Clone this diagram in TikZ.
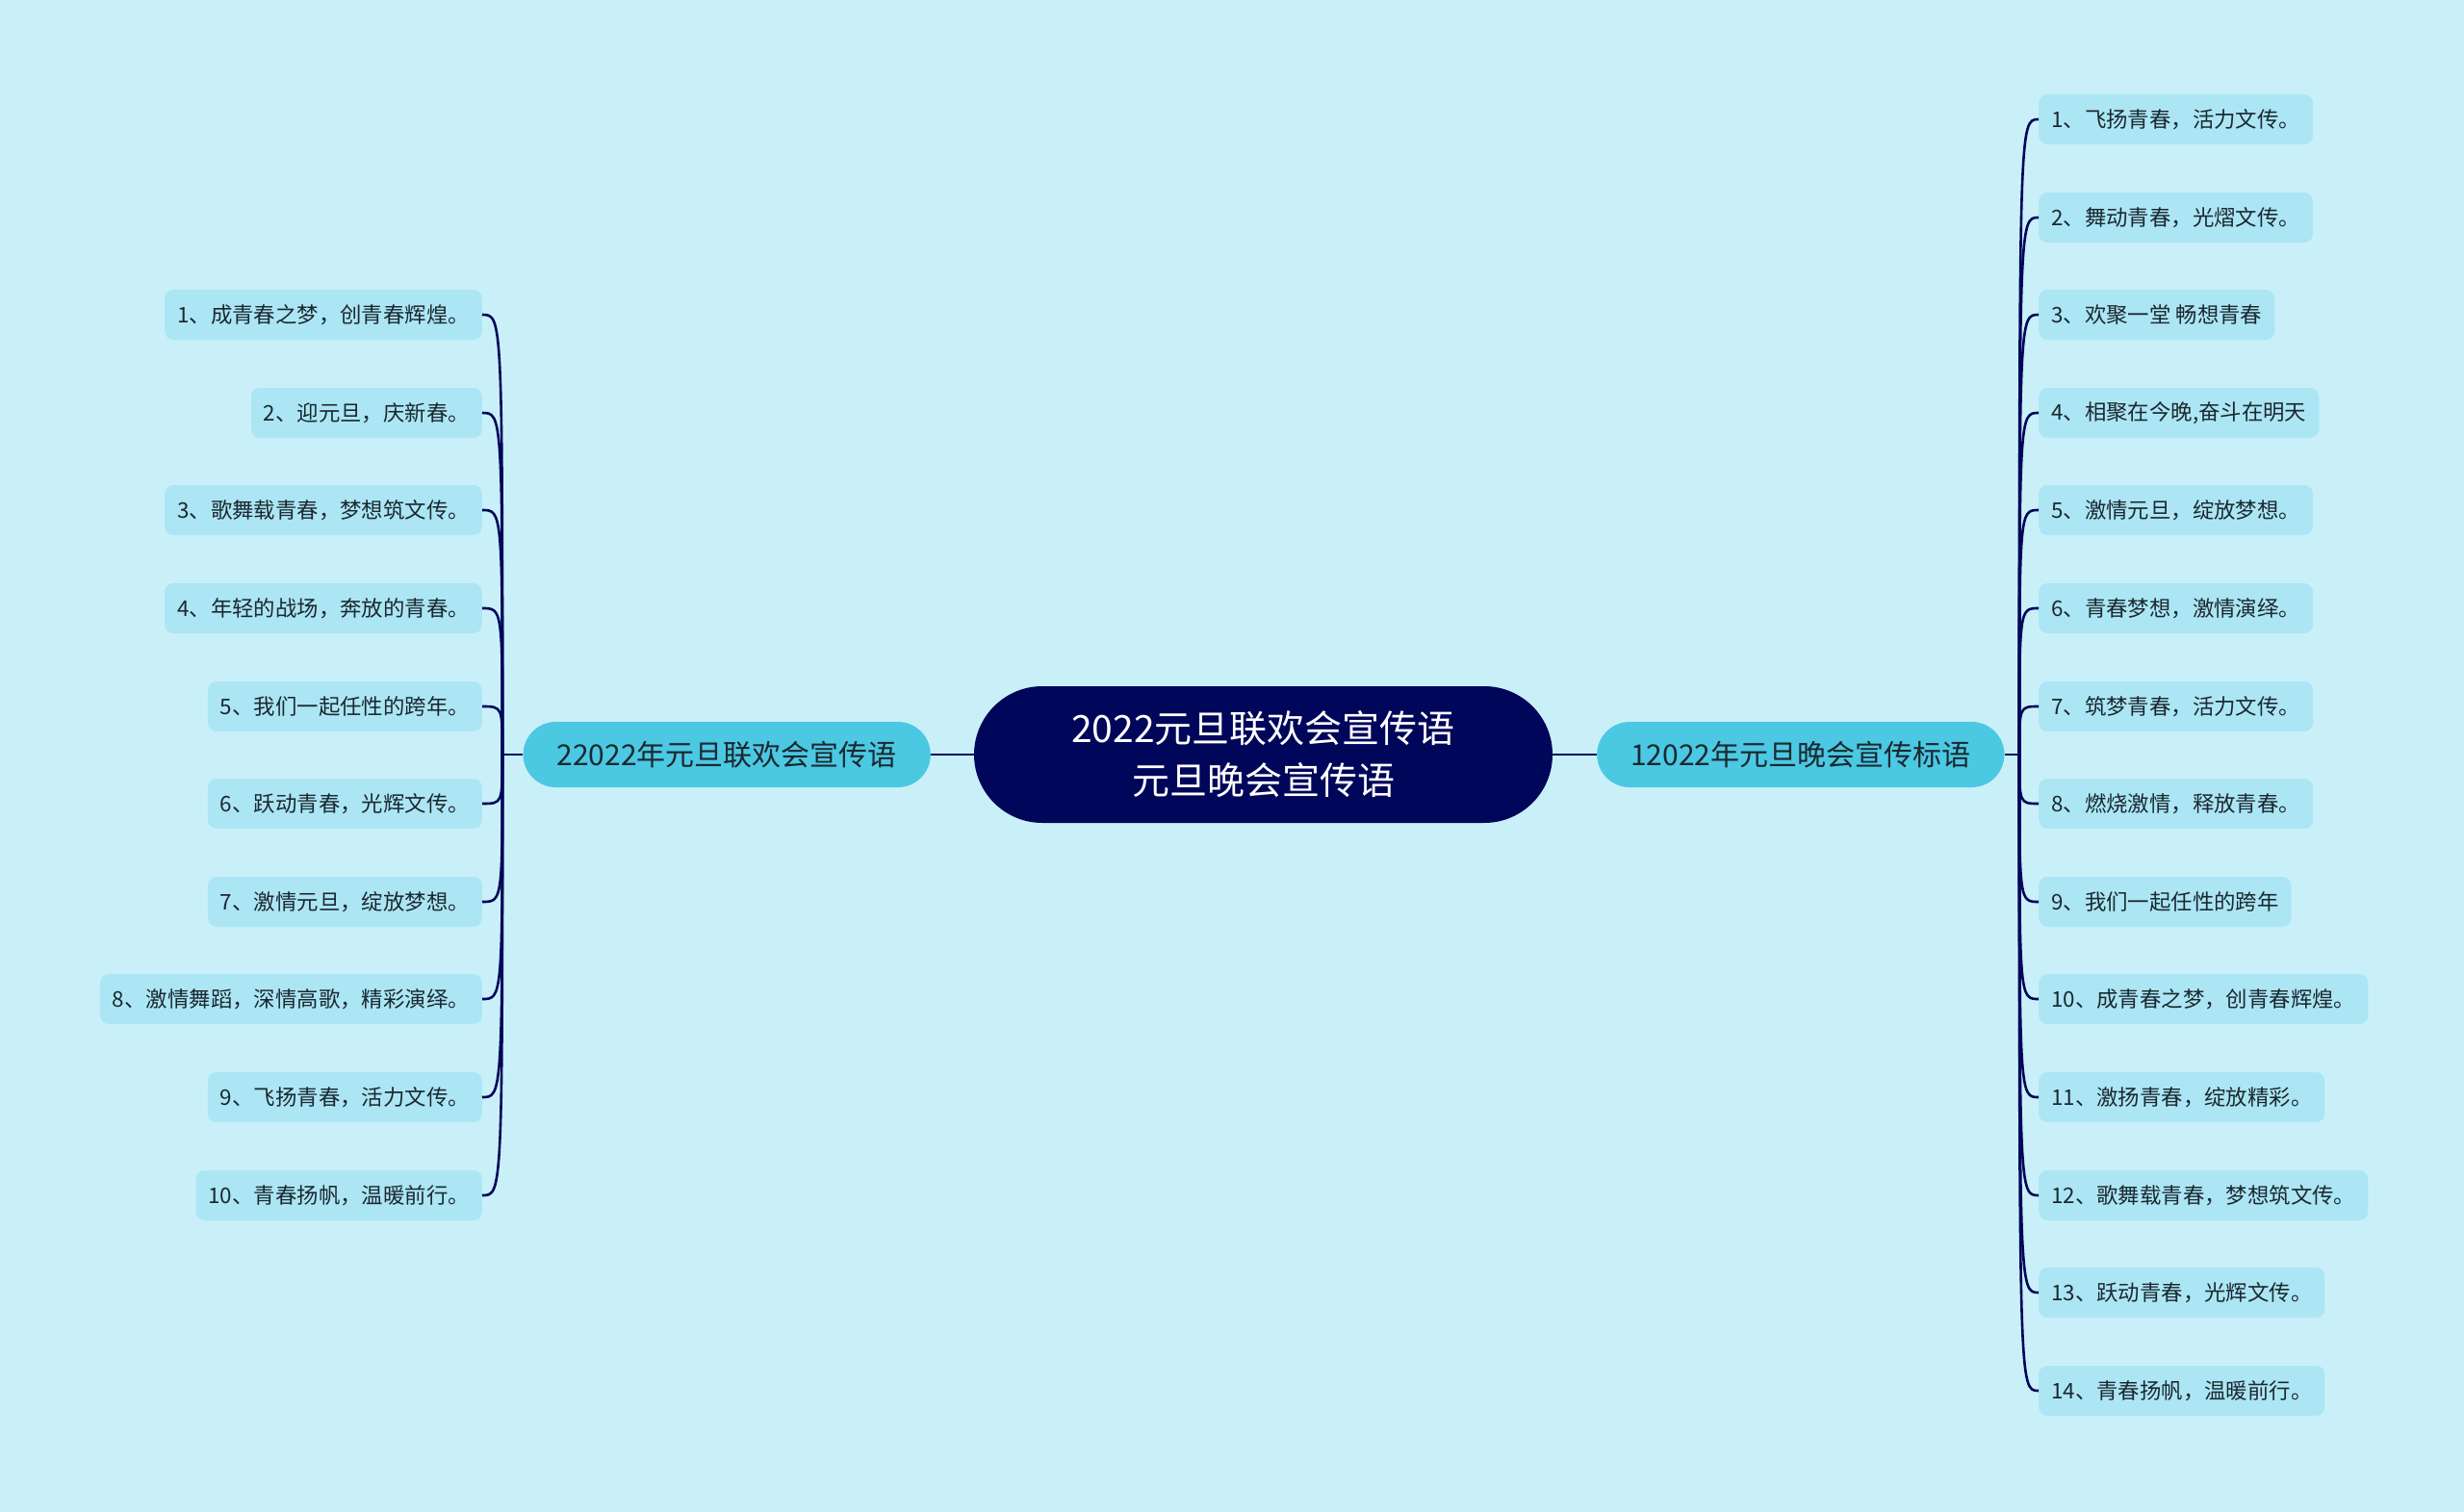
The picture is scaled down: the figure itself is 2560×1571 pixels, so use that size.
\documentclass[tikz,border=0pt]{standalone}
\usepackage{fontspec}
\newfontfamily\cjk{Noto Sans CJK SC}
\definecolor{bgcyan}{HTML}{C9F0F8}
\definecolor{leafcyan}{HTML}{ACE6F4}
\definecolor{maincyan}{HTML}{4BC8E2}
\definecolor{navy}{HTML}{00065A}
\definecolor{inkdark}{HTML}{1B2830}
\tikzset{
	centerbox/.style={fill=navy,text=white,rounded corners=71pt,minimum width=601pt,minimum height=142pt,align=center,font=\cjk\fontsize{39}{54}\selectfont},
	mainbox/.style={fill=maincyan,text=inkdark,rounded corners=34pt,minimum height=68pt,inner xsep=35pt,font=\cjk\fontsize{30}{36}\selectfont},
	leafbox/.style={fill=leafcyan,text=inkdark,rounded corners=9pt,minimum height=52pt,inner xsep=13pt,font=\cjk\fontsize{22.4}{26}\selectfont},
	link/.style={draw=navy,line width=2.6pt}
}
\begin{document}
\begin{tikzpicture}[x=1pt,y=-1pt]
		\useasboundingbox[fill=bgcyan] (0,0) rectangle (2560,1571);
		
		\node[centerbox] (c) at (1312.5,784) {2022元旦联欢会宣传语\\元旦晚会宣传语};
		
		\node[mainbox,anchor=east] (m2) at (967,784) {22022年元旦联欢会宣传语};
		\node[mainbox,anchor=west] (m1) at (1659,784) {12022年元旦晚会宣传标语};
		
		\coordinate (lroot) at (522,784);
		\coordinate (rroot) at (2098,784);
		
		\draw[link] (c.west) -- (m2.east);
		\draw[link] (c.east) -- (m1.west);
		\draw[link] (m2.west) -- (lroot);
		\draw[link] (m1.east) -- (rroot);
		
		% left branch
		\node[leafbox,anchor=east] (l1) at (501,327) {1、成青春之梦，创青春辉煌。};
		\node[leafbox,anchor=east] (l2) at (501,429) {2、迎元旦，庆新春。};
		\node[leafbox,anchor=east] (l3) at (501,530) {3、歌舞载青春，梦想筑文传。};
		\node[leafbox,anchor=east] (l4) at (501,632) {4、年轻的战场，奔放的青春。};
		\node[leafbox,anchor=east] (l5) at (501,734) {5、我们一起任性的跨年。};
		\node[leafbox,anchor=east] (l6) at (501,835) {6、跃动青春，光辉文传。};
		\node[leafbox,anchor=east] (l7) at (501,937) {7、激情元旦，绽放梦想。};
		\node[leafbox,anchor=east] (l8) at (501,1038) {8、激情舞蹈，深情高歌，精彩演绎。};
		\node[leafbox,anchor=east] (l9) at (501,1140) {9、飞扬青春，活力文传。};
		\node[leafbox,anchor=east] (l10) at (501,1242) {10、青春扬帆，温暖前行。};
		
		\draw[link] (lroot) .. controls (lroot |- l1.east) .. (l1.east);
		\draw[link] (lroot) .. controls (lroot |- l2.east) .. (l2.east);
		\draw[link] (lroot) .. controls (lroot |- l3.east) .. (l3.east);
		\draw[link] (lroot) .. controls (lroot |- l4.east) .. (l4.east);
		\draw[link] (lroot) .. controls (lroot |- l5.east) .. (l5.east);
		\draw[link] (lroot) .. controls (lroot |- l6.east) .. (l6.east);
		\draw[link] (lroot) .. controls (lroot |- l7.east) .. (l7.east);
		\draw[link] (lroot) .. controls (lroot |- l8.east) .. (l8.east);
		\draw[link] (lroot) .. controls (lroot |- l9.east) .. (l9.east);
		\draw[link] (lroot) .. controls (lroot |- l10.east) .. (l10.east);
		
		% right branch
		\node[leafbox,anchor=west] (r1) at (2118,124) {1、飞扬青春，活力文传。};
		\node[leafbox,anchor=west] (r2) at (2118,226) {2、舞动青春，光熠文传。};
		\node[leafbox,anchor=west] (r3) at (2118,327) {3、欢聚一堂 畅想青春};
		\node[leafbox,anchor=west] (r4) at (2118,429) {4、相聚在今晚,奋斗在明天};
		\node[leafbox,anchor=west] (r5) at (2118,530) {5、激情元旦，绽放梦想。};
		\node[leafbox,anchor=west] (r6) at (2118,632) {6、青春梦想，激情演绎。};
		\node[leafbox,anchor=west] (r7) at (2118,734) {7、筑梦青春，活力文传。};
		\node[leafbox,anchor=west] (r8) at (2118,835) {8、燃烧激情，释放青春。};
		\node[leafbox,anchor=west] (r9) at (2118,937) {9、我们一起任性的跨年};
		\node[leafbox,anchor=west] (r10) at (2118,1038) {10、成青春之梦，创青春辉煌。};
		\node[leafbox,anchor=west] (r11) at (2118,1140) {11、激扬青春，绽放精彩。};
		\node[leafbox,anchor=west] (r12) at (2118,1242) {12、歌舞载青春，梦想筑文传。};
		\node[leafbox,anchor=west] (r13) at (2118,1343) {13、跃动青春，光辉文传。};
		\node[leafbox,anchor=west] (r14) at (2118,1445) {14、青春扬帆，温暖前行。};
		
		\draw[link] (rroot) .. controls (rroot |- r1.west) .. (r1.west);
		\draw[link] (rroot) .. controls (rroot |- r2.west) .. (r2.west);
		\draw[link] (rroot) .. controls (rroot |- r3.west) .. (r3.west);
		\draw[link] (rroot) .. controls (rroot |- r4.west) .. (r4.west);
		\draw[link] (rroot) .. controls (rroot |- r5.west) .. (r5.west);
		\draw[link] (rroot) .. controls (rroot |- r6.west) .. (r6.west);
		\draw[link] (rroot) .. controls (rroot |- r7.west) .. (r7.west);
		\draw[link] (rroot) .. controls (rroot |- r8.west) .. (r8.west);
		\draw[link] (rroot) .. controls (rroot |- r9.west) .. (r9.west);
		\draw[link] (rroot) .. controls (rroot |- r10.west) .. (r10.west);
		\draw[link] (rroot) .. controls (rroot |- r11.west) .. (r11.west);
		\draw[link] (rroot) .. controls (rroot |- r12.west) .. (r12.west);
		\draw[link] (rroot) .. controls (rroot |- r13.west) .. (r13.west);
		\draw[link] (rroot) .. controls (rroot |- r14.west) .. (r14.west);
\end{tikzpicture}
\end{document}
